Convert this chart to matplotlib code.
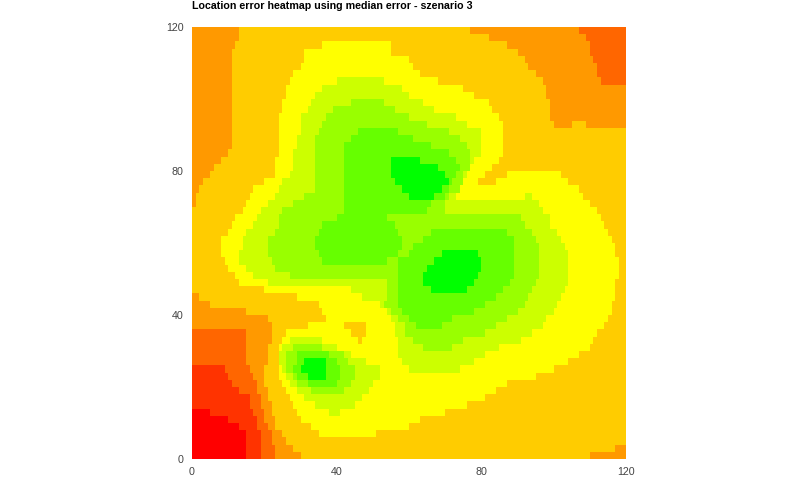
import numpy as np
import matplotlib
matplotlib.use("Agg")
import matplotlib.pyplot as plt
from matplotlib.colors import ListedColormap, BoundaryNorm

title = "Location error heatmap using median error - szenario 3"
x_ticks = [0, 40, 80, 120]
y_ticks = [0, 40, 80, 120]
colours = ["#FF0000", "#FF3300", "#FF6600", "#FF9900", "#FFCC00",
           "#FFFF00", "#CCFF00", "#99FF00", "#66FF00", "#00FF00"]

# error class per 2-unit row, top row first, written as class:x where the run ends
rows = [
    "3:13 4:77 3:107 2:120",
    "3:12.5 4:82 3:109 2:120",
    "3:11.5 4:35.5 5:54.5 4:87 3:110 2:120",
    "3:11 4:31 5:55 4:90 3:110 2:120",
    "3:11 4:31 5:60 4:91.5 3:111 2:120",
    "3:11 4:30 5:61 4:93 3:112 2:120",
    "3:10.5 4:28 5:63 4:95 3:112 2:120",
    "3:10.5 4:26.5 5:39.5 6:53 5:68 4:97 3:113 2:120",
    "3:10.5 4:26 5:36 6:57.5 5:75 4:97.5 3:120",
    "3:10.5 4:26 5:34 6:60 5:78 4:98 3:120",
    "3:10.5 4:25 5:32.5 6:44 7:53 6:64 5:81.5 4:99 3:120",
    "3:10.5 4:24.5 5:31.5 6:39 7:56 6:67 5:83 4:99 3:120",
    "3:10.5 4:24 5:30 6:37 7:60 6:73 5:84.5 4:99 3:120",
    "3:10.5 4:24 5:29.5 6:35.5 7:65 6:76 5:86 4:100 3:105 4:109 3:120",
    "3:10.5 4:24 5:29.5 6:34.5 7:46 8:57 7:71 6:80 5:86 4:120",
    "3:10.5 4:23.8 5:29 6:34 7:43.5 8:61 7:74 6:80 5:86 4:120",
    "3:10.5 4:23.8 5:28.5 6:33.5 7:41.8 8:66 7:76 6:80 5:86 4:120",
    "3:10 4:23.5 5:28 6:33.5 7:41.5 8:71 7:77 6:79.5 5:86 4:120",
    "3:8 4:22.7 5:27.7 6:33.5 7:41.5 8:55 9:63 8:73 7:77 6:78 5:85 4:120",
    "3:6 4:22.7 5:27.7 6:33.5 7:41.5 8:54.5 9:68 8:74 7:76.5 6:77 5:82.5 4:120",
    "3:5 4:22.5 5:26.5 6:33.5 7:41.5 8:54.5 9:70 8:73 7:75 6:75.5 5:81 4:87 5:101.5 4:120",
    "3:3 4:19.5 5:25 6:33.5 7:41.5 8:56 9:70.5 8:72 7:74.5 6:75 5:79 4:84 5:104 4:120",
    "3:2 4:16.5 5:24 6:34 7:42 8:57.5 9:69 8:71 7:73.6 5:106.8 4:120",
    "3:1 4:15.5 5:22.5 6:31 7:41.5 8:60 9:66.6 8:69.5 7:71.3 6:73.4 5:91.5 6:93.5 5:108.4 4:120",
    "3:0.5 4:14.5 5:20.5 6:27.5 7:41.5 8:66 7:69.5 6:95.5 5:110.3 4:120",
    "4:13.5 5:18.8 6:25 7:41.5 8:65 7:69.5 6:96.5 5:111.7 4:120",
    "4:11.9 5:18.2 6:24.3 7:39.5 8:53.8 7:90.7 6:99 5:112.8 4:120",
    "4:11 5:17 6:23.7 7:36.2 8:56 7:91.8 6:99.3 5:114 4:120",
    "4:10 5:15.1 6:22.5 7:34.5 8:57 7:65.8 8:87 7:94 6:101 5:115 4:120",
    "4:8.2 5:14.2 6:21.1 7:33.5 8:57.5 7:63.5 8:88.5 7:94.9 6:102.3 5:116 4:120",
    "4:7.7 5:13.8 6:20.7 7:33.5 8:57.5 7:61.4 8:89 7:95.7 6:103 5:116.7 4:120",
    "4:8 5:13 6:20.9 7:34.5 8:57 7:60.3 8:69 9:79 8:89.3 7:96 6:103.7 5:117.3 4:120",
    "4:8.6 5:13 6:22 7:35.9 8:53.8 7:57 8:67 9:80 8:89.3 7:96.2 6:103.7 5:118 4:120",
    "4:10 5:14.7 6:23 7:57 8:65.3 9:80 8:89.3 7:96 6:103.7 5:118 4:120",
    "4:11.9 5:16.6 6:26.5 7:57 8:64 9:79 8:89 7:95.7 6:103.7 5:118 4:120",
    "4:13.3 5:20.7 6:54.2 7:57 8:63.6 9:78.2 8:88 7:95 6:103.7 5:117.2 4:120",
    "4:20.4 5:43.7 6:54.2 7:56.6 8:65.8 9:76 8:86 7:94.3 6:102.6 5:116.5 4:120",
    "3:2.2 4:29.3 5:47 6:54.2 7:56.6 8:83.8 7:92.9 6:102 5:116.5 4:120",
    "3:5 4:34.6 5:52 6:53.4 7:57 8:81 7:91.5 6:101.2 5:116.4 4:120",
    "3:14.5 4:36 5:53.9 6:54.7 7:57.5 8:78.2 7:89.8 6:100.3 5:116 4:120",
    "3:20.5 4:37.3 5:55.3 6:57 7:60.3 8:72 7:86.5 6:98.4 5:114.7 4:120",
    "3:22.2 4:31.8 5:42 4:48.4 5:55.5 6:59 7:61.7 8:69.4 7:83.8 6:96.8 5:113.7 4:120",
    "2:14.8 3:21.5 4:26 5:44 4:48 5:56 6:59 7:80.5 6:93.5 5:112 4:120",
    "2:14.6 3:21.6 4:24.9 5:27 6:36.3 5:45.5 4:46.8 5:56.7 6:60.5 7:75 6:90.7 5:111 4:120",
    "2:14.8 3:21.4 4:23.9 5:25 6:27.6 7:36.2 6:40.3 5:56.7 6:63.6 7:71.9 6:85 5:109.5 4:120",
    "2:15 3:20.9 4:23.9 5:24.4 6:26.2 7:29.3 8:37.6 7:41.5 6:44.2 5:57 6:80.5 5:106.7 4:120",
    "2:15.2 3:20.6 4:23.9 5:24.4 6:26.2 7:28.8 8:31 9:36.8 8:39.5 7:42.8 6:48.4 5:58.3 6:77.7 5:103.7 4:120",
    "1:8.6 2:15.5 3:20.3 4:23.9 5:24.6 6:26.4 7:28 8:29.9 9:36.8 8:40.5 7:45 6:51.5 5:60 6:74 5:100.4 4:120",
    "1:9.5 2:16.7 3:19.9 4:24.3 5:25.5 6:27.5 7:29 8:32 9:36.8 8:40.9 7:45.4 6:51.5 5:95.4 4:120",
    "1:11 2:17.8 3:19.8 4:25.2 5:26.9 6:29 7:31.8 8:39.5 7:43.8 6:50 5:87 4:120",
    "1:12.8 2:18.3 3:20.6 4:26 5:28.6 6:32.6 7:42 6:49.2 5:84 4:120",
    "1:15.5 2:19 3:21.3 4:27.3 5:30.5 6:47.3 5:81 4:120",
    "1:16.2 2:19.4 3:21.8 4:27.9 5:33.6 6:44.5 5:76 4:120",
    "0:5.2 1:17 2:19.8 3:22.4 4:28.5 5:38 6:41 5:70.4 4:120",
    "0:9.5 1:17.6 2:20.3 3:22.9 4:30 5:63 4:120",
    "0:12.5 1:18.2 2:20.8 3:23.4 4:32.5 5:60 4:120",
    "0:14.6 1:18.5 2:21.5 3:25.2 4:35 5:51 4:120",
    "0:14.6 1:18.7 2:22.3 3:26.2 4:120",
    "0:14.6 1:18.7 2:23 3:27.8 4:117 3:120",
    "0:14.6 1:18.8 2:23.4 3:30 4:110 3:120",
]

xs = np.arange(0, 121)
ys = np.arange(0, 121, 2)
grid = np.zeros((60, 120), dtype=int)
for i, row in enumerate(rows):
    runs = [r.split(":") for r in row.split()]
    ends = [float(r[1]) for r in runs]
    levels = [int(r[0]) for r in runs]
    idx = np.searchsorted(ends, xs[:-1] + 0.5)
    grid[59 - i] = np.array(levels)[idx]

fig = plt.figure(figsize=(8, 5), dpi=100)
ax = fig.add_axes([192 / 800, 1 - 459 / 500, 434 / 800, 432 / 500])
cmap = ListedColormap(colours)
ax.pcolormesh(xs, ys, grid, cmap=cmap, norm=BoundaryNorm(np.arange(-0.5, 10), 10),
              shading="flat", antialiased=False)
ax.set_xlim(0, 120)
ax.set_ylim(0, 120)
ax.set_xticks(x_ticks)
ax.set_yticks(y_ticks)
ax.tick_params(length=0, labelsize=7.7, labelcolor="#444444", pad=6)
for label in ax.get_xticklabels() + ax.get_yticklabels():
    label.set_family("Liberation Sans")
for s in ax.spines.values():
    s.set_visible(False)
fig.text(192 / 800, 1 - 6 / 500, title, family="Liberation Sans", fontweight="bold",
         fontsize=7.65, color="black", ha="left", va="center")
fig.savefig("out.png", dpi=100)
